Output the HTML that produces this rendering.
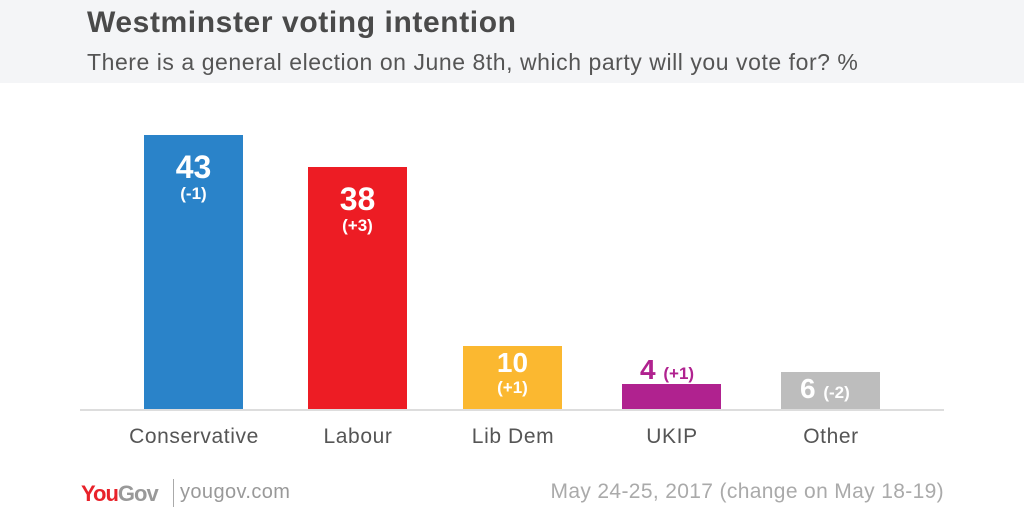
<!DOCTYPE html>
<html><head><style>
body{margin:0;width:1024px;height:512px;background:#fff;font-family:"Liberation Sans",sans-serif;position:relative;overflow:hidden}
.hdr{position:absolute;left:0;top:0;width:1024px;height:83px;background:#f4f5f7}
.t{position:absolute;left:87px;top:6px;font-size:30px;font-weight:bold;color:#4a4a4a;letter-spacing:0.6px}
.s{position:absolute;left:87px;top:49px;font-size:23px;color:#555;letter-spacing:0.55px}
.bar{position:absolute;width:99px}
.v{position:absolute;width:99px;text-align:center;color:#fff;font-weight:bold}
.n{font-size:32px;line-height:34px}
.c{font-size:17px;line-height:20px}
.cat{position:absolute;top:425px;width:160px;text-align:center;font-size:21px;color:#555;letter-spacing:0.6px}
</style></head><body>
<div class="hdr"></div>
<div class="t">Westminster voting intention</div>
<div class="s">There is a general election on June 8th, which party will you vote for? %</div>
<div class="bar" style="left:144px;top:135px;height:275px;background:#2a83c9"></div>
<div class="v" style="left:144px;top:150px"><div class="n">43</div><div class="c">(-1)</div></div>
<div class="bar" style="left:308px;top:167px;height:243px;background:#ed1c24"></div>
<div class="v" style="left:308px;top:182px"><div class="n">38</div><div class="c">(+3)</div></div>
<div class="bar" style="left:463px;top:346px;height:64px;background:#fbb830"></div>
<div class="v" style="left:463px;top:348px"><div class="n" style="font-size:28px;line-height:30px">10</div><div class="c">(+1)</div></div>
<div class="bar" style="left:622px;top:384px;height:26px;background:#b0228f"></div>
<div style="position:absolute;left:640px;top:354px;color:#b0228f;font-weight:bold;font-size:28px">4 <span style="font-size:17px">(+1)</span></div>
<div class="bar" style="left:781px;top:372px;height:38px;background:#bdbdbd"></div>
<div style="position:absolute;left:800px;top:373px;color:#fff;font-weight:bold;font-size:28px">6 <span style="font-size:17px">(-2)</span></div>
<div style="position:absolute;left:80px;top:409px;width:864px;height:2px;background:#ddd"></div>
<div class="cat" style="left:114px">Conservative</div>
<div class="cat" style="left:278px">Labour</div>
<div class="cat" style="left:433px">Lib Dem</div>
<div class="cat" style="left:592px">UKIP</div>
<div class="cat" style="left:751px">Other</div>
<div style="position:absolute;left:81px;top:481px;font-size:22px;font-weight:bold;letter-spacing:-1px"><span style="color:#e8222a">You</span><span style="color:#999">Gov</span></div>
<div style="position:absolute;left:173px;top:479px;width:1px;height:28px;background:#aaa"></div>
<div style="position:absolute;left:180px;top:481px;font-size:20px;color:#999;letter-spacing:0.4px">yougov.com</div>
<div style="position:absolute;right:80px;top:480px;font-size:21px;color:#aaa;letter-spacing:0.35px">May 24-25, 2017 (change on May 18-19)</div>
</body></html>
